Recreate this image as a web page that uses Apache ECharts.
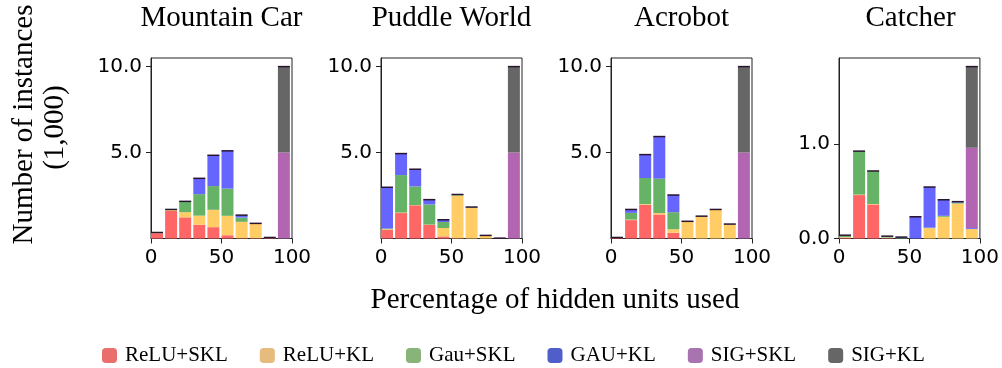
<!DOCTYPE html>
<html><head><meta charset="utf-8">
<script src="https://cdn.jsdelivr.net/npm/echarts@6/dist/echarts.min.js"></script>
<style>html,body{margin:0;padding:0;background:#fff}#c{width:1002px;height:368px}</style>
</head><body><div id="c"></div>
<script>
// ---- data ----
const panelTitles = ['Mountain Car', 'Puddle World', 'Acrobot', 'Catcher'];
const seriesNames = ['ReLU+SKL', 'ReLU+KL', 'Gau+SKL', 'GAU+KL', 'SIG+SKL', 'SIG+KL'];
const binStarts = [0, 10, 20, 30, 40, 50, 60, 70, 80, 90];
const binWidth = 10;

const mcReluSKL = [0.31, 1.60, 1.23, 0.80, 0.66, 0.19, 0.02, 0.02, 0.03, 0];
const mcReluKL  = [0.02, 0.05, 0.30, 0.53, 1.01, 1.13, 0.95, 0.84, 0.02, 0];
const mcGauSKL  = [0.01, 0.02, 0.60, 1.25, 1.38, 1.58, 0.25, 0.01, 0, 0];
const mcGauKL   = [0.01, 0.02, 0.03, 0.92, 1.79, 2.20, 0.14, 0.01, 0.01, 0];
const mcSigSKL  = [0, 0, 0, 0, 0, 0, 0, 0, 0, 5.0];
const mcSigKL   = [0, 0, 0, 0, 0, 0, 0, 0, 0, 5.0];

const pwReluSKL = [0.50, 1.48, 1.93, 0.80, 0.12, 0.01, 0, 0, 0, 0];
const pwReluKL  = [0.04, 0.03, 0.01, 0.01, 0.49, 2.49, 1.80, 0.17, 0.01, 0];
const pwGauSKL  = [0.04, 2.18, 1.09, 1.17, 0.35, 0.05, 0.02, 0.01, 0, 0];
const pwGauKL   = [2.40, 1.25, 1.00, 0.28, 0.13, 0.01, 0.01, 0, 0.01, 0];
const pwSigSKL  = [0, 0, 0, 0, 0, 0, 0, 0, 0, 5.0];
const pwSigKL   = [0, 0, 0, 0, 0, 0, 0, 0, 0, 5.0];

const acReluSKL = [0.03, 1.07, 1.96, 1.40, 0.33, 0.01, 0, 0, 0, 0];
const acReluKL  = [0.01, 0.03, 0.04, 0.08, 0.21, 0.95, 1.28, 1.67, 0.82, 0];
const acGauSKL  = [0.01, 0.39, 1.52, 2.00, 0.99, 0.03, 0.01, 0.01, 0.01, 0];
const acGauKL   = [0.01, 0.20, 1.36, 2.45, 1.00, 0.01, 0.01, 0.01, 0.01, 0];
const acSigSKL  = [0, 0, 0, 0, 0, 0, 0, 0, 0, 5.0];
const acSigKL   = [0, 0, 0, 0, 0, 0, 0, 0, 0, 5.0];

const caReluSKL = [0.010, 0.46, 0.36, 0.005, 0, 0, 0, 0, 0, 0];
const caReluKL  = [0.005, 0.005, 0.005, 0.005, 0, 0, 0.11, 0.23, 0.37, 0.10];
const caGauSKL  = [0.020, 0.46, 0.35, 0.010, 0.005, 0, 0.005, 0.01, 0.01, 0];
const caGauKL   = [0, 0, 0, 0.005, 0.010, 0.23, 0.43, 0.17, 0.01, 0.01];
const caSigSKL  = [0, 0, 0, 0, 0, 0, 0, 0, 0, 0.85];
const caSigKL   = [0, 0, 0, 0, 0, 0, 0, 0, 0, 0.86];

const xTickValues = [0, 50, 100];
const yTickValuesMain = [5, 10];
const yTickValuesCatcher = [0, 1];

const xAxisLabel = 'Percentage of hidden units used';
const yAxisLabelLines = ['Number of instances', '(1,000)'];

// ---- layout / style ----
const panels = [
  [mcReluSKL, mcReluKL, mcGauSKL, mcGauKL, mcSigSKL, mcSigKL],
  [pwReluSKL, pwReluKL, pwGauSKL, pwGauKL, pwSigSKL, pwSigKL],
  [acReluSKL, acReluKL, acGauSKL, acGauKL, acSigSKL, acSigKL],
  [caReluSKL, caReluKL, caGauSKL, caGauKL, caSigSKL, caSigKL]
];
const panelYTicks = [yTickValuesMain, yTickValuesMain, yTickValuesMain, yTickValuesCatcher];
const gridLefts = [151, 381, 611, 839];
const gridWidths = [141, 141, 141, 143];
const gridTop = 58, gridHeight = 180.5;
const barFrac = 0.85;
const barColors = ['#ff6666', '#ffcc66', '#66b266', '#6666ff', '#b266b2', '#666666'];
const legendColors = ['#ea6f6c', '#e5bb7e', '#89b479', '#4f5ec8', '#a874b0', '#666666'];
const serif = 'Liberation Serif';
const sans = 'DejaVu Sans';
const edgeColor = '#2a1530';

function rectItem(params, api) {
  const x0 = api.value(0), lo = api.value(1), hi = api.value(2);
  const a = api.coord([x0, hi]);
  const b = api.coord([x0 + barFrac * binWidth, lo]);
  return {type: 'rect', shape: {x: a[0], y: a[1], width: b[0] - a[0], height: b[1] - a[1]},
    style: {fill: api.visual('color')}};
}
function edgeItem(params, api) {
  const a = api.coord([api.value(0), api.value(1)]);
  const b = api.coord([api.value(0) + barFrac * binWidth, api.value(1)]);
  return {type: 'line', shape: {x1: a[0], y1: a[1], x2: b[0], y2: b[1]},
    style: {stroke: edgeColor, lineWidth: 1.5}};
}

const grids = [], xAxes = [], yAxes = [], series = [], graphics = [];
panels.forEach((panel, p) => {
  const totals = binStarts.map((_, i) => panel.reduce((s, arr) => s + arr[i], 0));
  const yMax = Math.max(...totals) * 1.05;
  grids.push({left: gridLefts[p], top: gridTop, width: gridWidths[p], height: gridHeight,
    show: true, borderColor: '#222', borderWidth: 1, backgroundColor: 'transparent'});
  xAxes.push({type: 'value', gridIndex: p, min: 0, max: 100,
    axisLine: {show: true, lineStyle: {color: '#222', width: 1}},
    axisTick: {show: true, length: 5, lineStyle: {color: '#222'}, customValues: xTickValues},
    axisLabel: {customValues: xTickValues, margin: 9, fontFamily: sans, fontSize: 20, color: '#000'},
    splitLine: {show: false}});
  yAxes.push({type: 'value', gridIndex: p, min: 0, max: yMax,
    axisLine: {show: true, lineStyle: {color: '#222', width: 1}},
    axisTick: {show: true, length: 5, lineStyle: {color: '#222'}, customValues: panelYTicks[p]},
    axisLabel: {customValues: panelYTicks[p], margin: 9, fontFamily: sans, fontSize: 20, color: '#000',
      formatter: v => v.toFixed(1)},
    splitLine: {show: false}});
  const base = binStarts.map(() => 0);
  panel.forEach((arr, s) => {
    const data = arr.map((v, i) => {
      const d = [binStarts[i], base[i], base[i] + v];
      base[i] += v;
      return d;
    });
    series.push({type: 'custom', name: seriesNames[s], xAxisIndex: p, yAxisIndex: p, silent: true,
      animation: false, itemStyle: {color: barColors[s]}, encode: {x: 0, y: [1, 2]},
      data: data, renderItem: rectItem});
  });
  series.push({type: 'custom', name: 'edge' + p, xAxisIndex: p, yAxisIndex: p, silent: true, z: 5,
    animation: false, encode: {x: 0, y: 1},
    data: totals.map((t, i) => [binStarts[i], t]),
    renderItem: edgeItem});
  graphics.push({type: 'text', x: gridLefts[p] + gridWidths[p] / 2, y: 18,
    style: {text: panelTitles[p], fontFamily: serif, fontSize: 29, fill: '#000',
      textAlign: 'center', textVerticalAlign: 'middle'}});
});

graphics.push({type: 'text', x: 555, y: 300,
  style: {text: xAxisLabel, fontFamily: serif, fontSize: 29, fill: '#000', textAlign: 'center', textVerticalAlign: 'middle'}});
graphics.push({type: 'text', x: 24, y: 124.5, rotation: Math.PI / 2,
  style: {text: yAxisLabelLines[0], fontFamily: serif, fontSize: 29, fill: '#000', textAlign: 'center', textVerticalAlign: 'middle'}});
graphics.push({type: 'text', x: 55, y: 127.5, rotation: Math.PI / 2,
  style: {text: yAxisLabelLines[1], fontFamily: serif, fontSize: 29, fill: '#000', textAlign: 'center', textVerticalAlign: 'middle'}});

const option = {
  animation: false,
  grid: grids, xAxis: xAxes, yAxis: yAxes, series: series, graphic: graphics,
  legend: {left: 97, top: 340, itemWidth: 15, itemHeight: 15, itemGap: 32, icon: 'roundRect',
    selectedMode: false,
    textStyle: {fontFamily: serif, fontSize: 21, color: '#000', padding: [0, 0, 0, 3]},
    data: seriesNames.map((n, i) => ({name: n, itemStyle: {color: legendColors[i]}}))}
};
const chart = echarts.init(document.getElementById('c'), null, {renderer: 'canvas'});
chart.setOption(option);
</script></body></html>
